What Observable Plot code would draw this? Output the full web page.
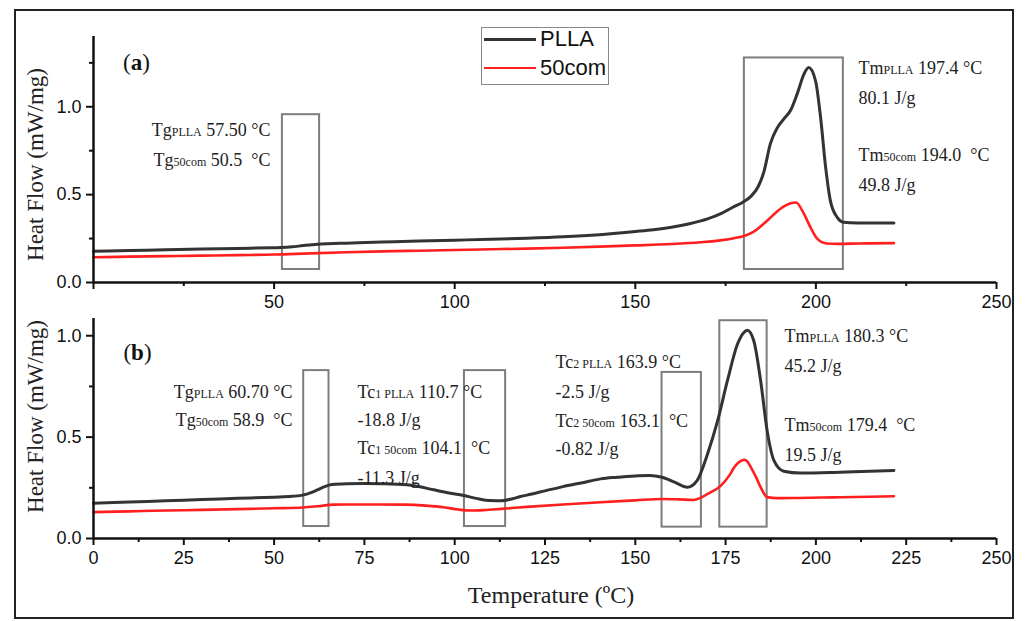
<!DOCTYPE html>
<html><head><meta charset="utf-8">
<script src="https://cdn.jsdelivr.net/npm/d3@7"></script>
<script src="https://cdn.jsdelivr.net/npm/@observablehq/plot@0.6"></script>
<style>
body{margin:0;background:#fff;}
#wrap{position:relative;width:1035px;height:621px;overflow:hidden;background:#fff;}
#frame{position:absolute;left:14px;top:9px;width:1000px;height:610px;box-sizing:border-box;border:2px solid #222;pointer-events:none;}
#pa{position:absolute;left:0;top:0;}
#pb{position:absolute;left:0;top:310px;}
#pa svg,#pb svg{overflow:visible;}
#legend{position:absolute;left:481px;top:27px;width:128px;height:58px;box-sizing:border-box;border:1.5px solid #888;background:#fff;font-family:"Liberation Sans",Arial,sans-serif;font-size:22px;color:#111;}
#legend .row{position:absolute;left:0;height:26px;width:100%;}
#legend .ln{position:absolute;left:2px;width:52px;top:12px;}
#legend .lb{position:absolute;left:58px;top:0;line-height:26px;}
</style></head>
<body><div id="wrap"><div id="pa"></div><div id="pb"></div>
<div id="legend"></div>
<div id="frame"></div></div>
<script>
// ---------- data ----------
const seriesNames = ["PLLA", "50com"];
const seriesColors = ["#333333", "#ff1f1f"];

// Panel (a)
const aTempPLLA = [0,10,20,30,40,50,52,55,58,62,65,70,80,90,100,110,120,130,140,150,155,160,165,170,174,177,180,182,184,185.6,187.4,189.3,191.1,193,194.8,196.7,198,199.9,201.3,202.7,204,205.9,207.7,212,216,221.6];
const aPLLA     = [0.178,0.182,0.186,0.19,0.194,0.198,0.199,0.203,0.21,0.218,0.221,0.224,0.23,0.236,0.241,0.246,0.252,0.26,0.272,0.29,0.3,0.314,0.334,0.362,0.395,0.428,0.46,0.49,0.545,0.63,0.79,0.88,0.93,0.98,1.072,1.186,1.223,1.148,0.939,0.655,0.466,0.371,0.343,0.339,0.338,0.338];
const aTemp50   = [0,10,20,30,40,50,60,70,80,90,100,110,120,130,140,150,160,168,174,177.3,180.5,182.8,186.5,190.2,193,194.5,196.7,198.5,200.4,203,206,212,221.6];
const a50com    = [0.144,0.147,0.15,0.153,0.156,0.159,0.166,0.172,0.177,0.181,0.185,0.189,0.193,0.198,0.204,0.211,0.219,0.229,0.241,0.252,0.268,0.29,0.352,0.42,0.451,0.455,0.39,0.314,0.248,0.222,0.22,0.222,0.224];

// Panel (b)
const bTempPLLA = [0,10,20,30,40,50,55,58.2,60,62,64,66,70,75,80,86.8,90,94.2,98,102.5,106,109.9,113,116,118.2,120,125,130,135,140.4,145,150.9,154,157.4,161,164.4,167.1,170,172.8,175.5,178.3,180,181,182.8,184.7,186.5,188.4,191.1,195.7,205,215,221.6];
const bPLLA     = [0.174,0.18,0.186,0.192,0.198,0.204,0.208,0.215,0.225,0.24,0.256,0.266,0.27,0.271,0.27,0.265,0.256,0.24,0.226,0.212,0.198,0.187,0.186,0.196,0.207,0.214,0.235,0.256,0.274,0.294,0.302,0.31,0.311,0.302,0.277,0.253,0.286,0.417,0.581,0.778,0.959,1.015,1.027,0.975,0.778,0.532,0.384,0.332,0.323,0.326,0.332,0.335];
const bTemp50   = [0,10,20,30,40,50,58,62,66.5,70,80,86,92,97,101,104.5,108,112.8,120,130,140.4,150,157.4,162,166.1,168,170,173.7,176,177.4,179,180.2,181,182,183.5,184.7,186.5,189.3,195,205,215,221.6];
const b50com    = [0.13,0.134,0.138,0.141,0.145,0.149,0.153,0.159,0.167,0.168,0.168,0.167,0.162,0.154,0.143,0.138,0.14,0.146,0.156,0.168,0.179,0.188,0.195,0.193,0.19,0.2,0.22,0.261,0.31,0.351,0.38,0.388,0.38,0.351,0.3,0.253,0.204,0.199,0.2,0.203,0.206,0.208];

// Ticks
const xMajorA = [0,50,100,150,200,250];
const xMinorA = [25,75,125,175,225];
const xMajorB = [0,25,50,75,100,125,150,175,200,225,250];
const xMinorB = [12.5,37.5,62.5,87.5,112.5,137.5,162.5,187.5,212.5,237.5];
const yMajor  = [0,0.5,1.0];
const yMinorA = [0.25,0.75,1.25];
const yMinorB = [0.25,0.75];

// Annotation boxes (data units)
const boxAX1 = [52.3,180.2], boxAX2 = [62.6,207.6], boxAY1 = [0.074,0.074], boxAY2 = [0.955,1.278];
const boxBX1 = [58.2,102.7,157.4,173.4], boxBX2 = [65.2,114.1,168.3,186.5], boxBY1 = [0.059,0.059,0.056,0.056], boxBY2 = [0.828,0.828,0.819,1.074];

// Annotation texts
const annAEndText  = ["Tg_{PLLA} 57.50 °C", "Tg_{50com} 50.5  °C"];
const annAEndX = [49.0,49.0], annAEndY = [0.864,0.693];
const annAStartText = ["Tm_{PLLA} 197.4 °C", "80.1 J/g", "Tm_{50com} 194.0  °C", "49.8 J/g"];
const annAStartX = [211.8,211.8,211.8,211.8], annAStartY = [1.222,1.051,0.722,0.551];

const annBEndText = ["Tg_{PLLA} 60.70 °C", "Tg_{50com} 58.9  °C"];
const annBEndX = [55.1,55.1], annBEndY = [0.719,0.581];
const annBStartText = ["Tc_{1 PLLA} 110.7 °C", "-18.8 J/g", "Tc_{1 50com} 104.1  °C", "-11.3 J/g",
                       "Tc_{2 PLLA} 163.9 °C", "-2.5 J/g", "Tc_{2 50com} 163.1  °C", "-0.82 J/g",
                       "Tm_{PLLA} 180.3 °C", "45.2 J/g", "Tm_{50com} 179.4  °C", "19.5 J/g"];
const annBStartX = [73.1,73.1,73.1,73.1,127.9,127.9,127.9,127.9,191.3,191.3,191.3,191.3];
const annBStartY = [0.719,0.581,0.443,0.296,0.867,0.719,0.576,0.438,1.0,0.852,0.557,0.409];

const panelLabels = ["(**a**)", "(**b**)"];
const yTitle = "Heat Flow (mW/mg)";
const xTitle = "Temperature (ºC)";

// ---------- helpers ----------
const serif = "'Liberation Serif','Times New Roman',serif";
const sans = "'Liberation Sans',Arial,sans-serif";
const fmtY = d3.format(".1f");

function axes(xMajor, xMinor, yMinor, hideZero) {
  return [
    Plot.axisX({ticks: xMajor, tickSize: 7, tickPadding: 6, strokeWidth: 2, label: null,
      tickFormat: d => (hideZero && d === 0) ? "" : String(d), fontSize: 18, fontFamily: sans}),
    Plot.axisX({ticks: xMinor, tickSize: 4, strokeWidth: 2, label: null, tickFormat: () => ""}),
    Plot.axisY({ticks: yMajor, tickSize: 7, tickPadding: 5, strokeWidth: 2, label: null,
      tickFormat: fmtY, fontSize: 18, fontFamily: sans}),
    Plot.axisY({ticks: yMinor, tickSize: 4, strokeWidth: 2, label: null, tickFormat: () => ""}),
    Plot.ruleY([0], {stroke: "#111", strokeWidth: 2.5}),
    Plot.ruleX([0], {stroke: "#111", strokeWidth: 2.5})
  ];
}
function curves(t1, v1, t2, v2) {
  return [
    Plot.line(v2, {x: t2, y: Plot.identity, stroke: seriesColors[1], strokeWidth: 2.6, curve: "monotone-x"}),
    Plot.line(v1, {x: t1, y: Plot.identity, stroke: seriesColors[0], strokeWidth: 3, curve: "monotone-x"})
  ];
}
function annText(texts, xs, ys, anchor) {
  return Plot.text(texts, {x: xs, y: ys, text: Plot.identity, textAnchor: anchor,
    fontFamily: serif, fontSize: 18, fill: "#222"});
}
function richify(svg) {
  d3.select(svg).selectAll("text").each(function() {
    const s = this.textContent;
    if (!/_\{|\*\*/.test(s)) return;
    const re = /_\{([^}]*)\}|\*\*([^*]*)\*\*/g;
    const parts = []; let last = 0, m;
    while ((m = re.exec(s))) {
      if (m.index > last) parts.push({t: s.slice(last, m.index)});
      if (m[1] !== undefined) parts.push({t: m[1], sub: true}); else parts.push({t: m[2], bold: true});
      last = re.lastIndex;
    }
    if (last < s.length) parts.push({t: s.slice(last)});
    const el = d3.select(this); el.text(null);
    el.attr("xml:space", "preserve").style("white-space", "pre");
    for (const p of parts) {
      const ts = el.append("tspan").text(p.t);
      if (p.sub) ts.attr("font-size", "12px");
      if (p.bold) ts.attr("font-weight", "bold");
    }
  });
}

// ---------- panel (a) ----------
const plotA = Plot.plot({
  width: 1035, height: 310,
  marginLeft: 93, marginRight: 39, marginTop: 36, marginBottom: 28,
  x: {domain: [0, 250]}, y: {domain: [0, 1.4]},
  style: {background: "transparent", color: "#111", fontFamily: sans, fontSize: "18px", overflow: "visible"},
  marks: [
    Plot.rect(boxAX1, {x1: boxAX1, x2: boxAX2, y1: boxAY1, y2: boxAY2, fill: "none", stroke: "#7d7d7d", strokeWidth: 2}),
    ...curves(aTempPLLA, aPLLA, aTemp50, a50com),
    ...axes(xMajorA, xMinorA, yMinorA, true),
    annText(annAEndText, annAEndX, annAEndY, "end"),
    annText(annAStartText, annAStartX, annAStartY, "start"),
    Plot.text([panelLabels[0]], {frameAnchor: "top-left", dx: 43, dy: 17, textAnchor: "middle", fontFamily: serif, fontSize: 23, fill: "#111"}),
    Plot.text([yTitle], {frameAnchor: "left", rotate: -90, dx: -58, dy: 5, textAnchor: "middle", fontFamily: serif, fontSize: 23, fill: "#222"})
  ]
});
richify(plotA);
document.getElementById("pa").appendChild(plotA);

// ---------- panel (b) ----------
const plotB = Plot.plot({
  width: 1035, height: 311,
  marginLeft: 93, marginRight: 39, marginTop: 8, marginBottom: 83,
  x: {domain: [0, 250]}, y: {domain: [0, 1.085]},
  style: {background: "transparent", color: "#111", fontFamily: sans, fontSize: "18px", overflow: "visible"},
  marks: [
    Plot.rect(boxBX1, {x1: boxBX1, x2: boxBX2, y1: boxBY1, y2: boxBY2, fill: "none", stroke: "#7d7d7d", strokeWidth: 2}),
    ...curves(bTempPLLA, bPLLA, bTemp50, b50com),
    ...axes(xMajorB, xMinorB, yMinorB, false),
    annText(annBEndText, annBEndX, annBEndY, "end"),
    annText(annBStartText, annBStartX, annBStartY, "start"),
    Plot.text([panelLabels[1]], {frameAnchor: "top-left", dx: 44, dy: 25, textAnchor: "middle", fontFamily: serif, fontSize: 23, fill: "#111"}),
    Plot.text([yTitle], {frameAnchor: "left", rotate: -90, dx: -58, dy: -12, textAnchor: "middle", fontFamily: serif, fontSize: 23, fill: "#222"}),
    Plot.text([xTitle], {frameAnchor: "bottom", dx: 6, dy: 64, textAnchor: "middle", fontFamily: serif, fontSize: 24, fill: "#222"})
  ]
});
richify(plotB);
document.getElementById("pb").appendChild(plotB);

// ---------- legend ----------
const legend = d3.select("#legend");
seriesNames.forEach((name, i) => {
  const row = legend.append("div").attr("class", "row").style("top", (i === 0 ? -2 : 27) + "px");
  row.append("div").attr("class", "ln").style("border-top", (i === 0 ? 3 : 2.6) + "px solid " + seriesColors[i]);
  row.append("div").attr("class", "lb").text(name);
});
</script></body></html>
